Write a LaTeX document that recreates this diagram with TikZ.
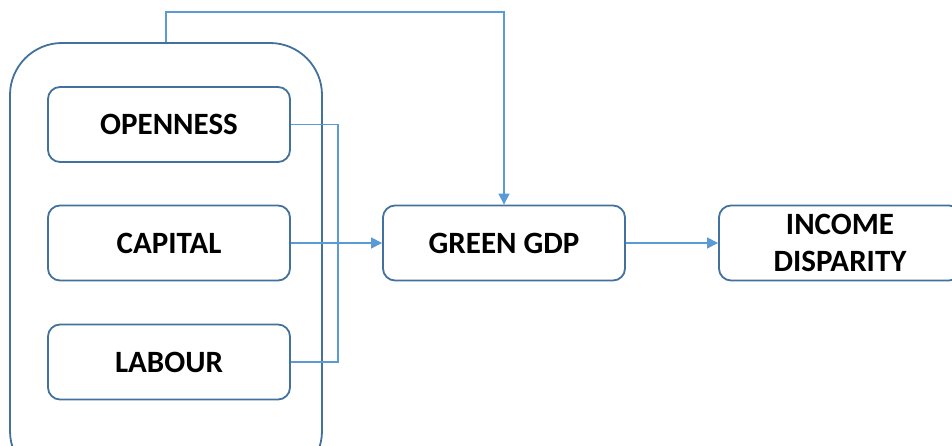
\documentclass[tikz,border=0pt]{standalone}
\usepackage{fontspec}
\setmainfont{Carlito}
\usetikzlibrary{arrows.meta}
\definecolor{boxc}{HTML}{41719C}
\definecolor{linec}{HTML}{5B9BD5}
\begin{document}
\begin{tikzpicture}[x=1pt,y=-1pt,
  box/.style={draw=boxc,line width=1.8pt,rounded corners=12pt,minimum width=242pt,minimum height=75pt,inner sep=0pt,align=center,font=\fontsize{31}{37}\selectfont\bfseries,text=black},
  outerbox/.style={draw=boxc,line width=1.8pt,rounded corners=52pt,minimum width=312pt,minimum height=440pt,inner sep=0pt},
  conn/.style={draw=linec,line width=1.2pt},
  arr/.style={conn,-{Triangle[length=11pt,width=11pt]}}]
\useasboundingbox (0,0) rectangle (952,446);
\begin{scope}
\clip (0,0) rectangle (952,446);
\node[outerbox] (grp) at (166,263) {};
\node[box] (open) at (169,124.5) {OPENNESS};
\node[box] (cap) at (169,243) {CAPITAL};
\node[box] (lab) at (169,362) {LABOUR};
\node[box] (gdp) at (504,243) {GREEN GDP};
\node[box] (inc) at (840,243) {INCOME\\DISPARITY};
\coordinate (jx) at (338,243);
\draw[arr] (grp.north) -- (grp.north |- 0,12) -| (gdp.north);
\draw[conn] (open.east) -| (jx) |- (lab.east);
\draw[arr] (cap.east) -- (gdp.west);
\draw[arr] (gdp.east) -- (inc.west);
\end{scope}
\end{tikzpicture}
\end{document}
